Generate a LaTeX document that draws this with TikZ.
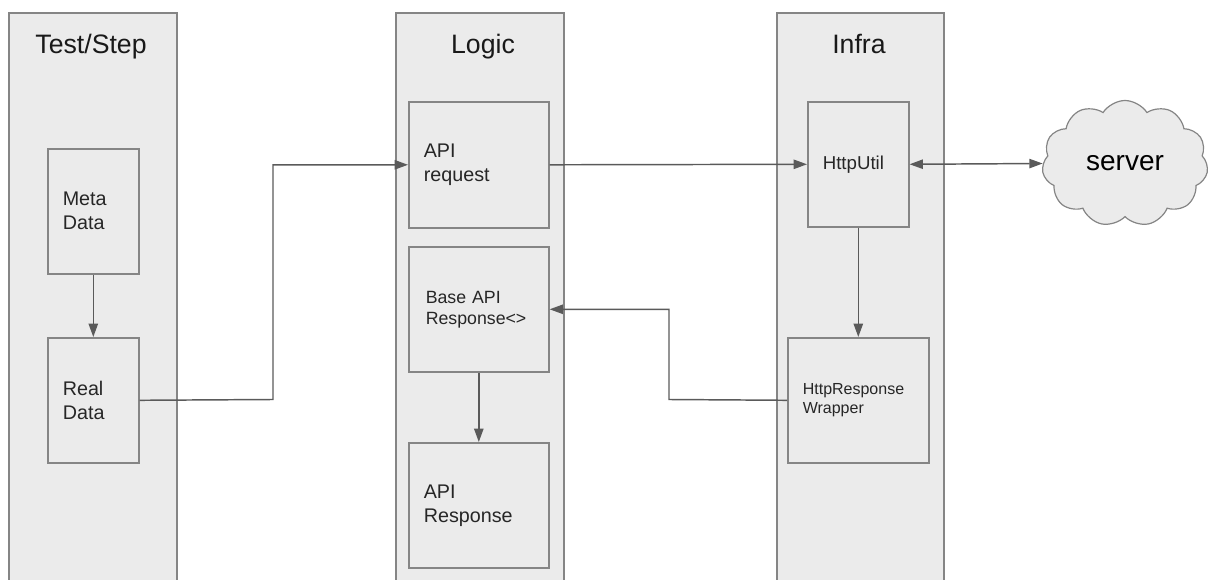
\documentclass[tikz,border=0pt]{standalone}
\usepackage{fontspec}
\setmainfont{Liberation Sans}
\usetikzlibrary{arrows.meta,shapes.symbols}
\definecolor{lanefill}{HTML}{EBEBEB}
\definecolor{edgegray}{HTML}{858585}
\definecolor{linkgray}{HTML}{5A5A5A}

\begin{document}
\begin{tikzpicture}[x=0.75pt,y=-0.75pt,
  lane/.style={draw=edgegray, line width=1.2pt, fill=lanefill, anchor=north west,
    inner sep=0pt, minimum height=578*0.75pt},
  lanetitle/.style={anchor=base, font=\fontsize{20}{24}\selectfont, text=black!90},
  block/.style={draw=edgegray, line width=1.2pt, fill=lanefill, anchor=north west,
    inner xsep=11.25pt, inner ysep=0pt, align=left, text=black!85,
    minimum height=125*0.75pt},
  bodytext/.style={font=\fontsize{14.8}{18}\selectfont},
  link/.style={draw=linkgray, line width=1.1pt, -{Triangle[length=10pt,width=7pt]}},
  duplex/.style={draw=linkgray, line width=1.1pt,
    {Triangle[length=10pt,width=7pt]}-{Triangle[length=10pt,width=7pt]}},
]
\useasboundingbox (0,0) rectangle (1214,580);
\clip (0,0) rectangle (1214,580);

% swim lanes
\node[lane, minimum width=168*0.75pt] (laneTest)  at (8,12)   {};
\node[lane, minimum width=168*0.75pt] (laneLogic) at (395,12) {};
\node[lane, minimum width=167*0.75pt] (laneInfra) at (776,12) {};

\node[lanetitle] (tTest)  at (91,54)  {Test/Step};
\node[lanetitle] (tLogic) at (483,54) {Logic};
\node[lanetitle] (tInfra) at (859,54) {Infra};

% Test/Step lane
\node[block, bodytext, text width=61*0.75pt] (meta) at (47,148) {Meta\\Data};
\node[block, bodytext, text width=61*0.75pt] (real) at (47,337) {Real\\Data};

% Logic lane
\node[block, bodytext, text width=110*0.75pt, minimum height=126*0.75pt] (req) at (408,101) {API\\request};
\node[block, text width=106*0.75pt, inner xsep=12.75pt,
      font=\fontsize{13.3}{15.75}\selectfont] (base) at (408,246) {Base API\\Response<>};
\node[block, bodytext, text width=110*0.75pt] (resp) at (408,442) {API\\Response};

% Infra lane
\node[block, text width=71*0.75pt, font=\fontsize{14}{17}\selectfont] (util) at (807,101) {HttpUtil};
\node[block, text width=111*0.75pt, font=\fontsize{12}{14.25}\selectfont] (wrap) at (787,337) {HttpResponse\\Wrapper};

% remote server
\node[cloud, cloud puffs=11, cloud puff arc=115, cloud ignores aspect,
      draw=edgegray, line width=0.9pt, fill=lanefill, text=black,
      minimum width=166*0.75pt, minimum height=126*0.75pt,
      font=\fontsize{21}{25}\selectfont] (server) at (1125,163.5) {server};

% connectors
\coordinate (bendOut) at (273,399.5);
\coordinate (bendBack) at (669,399.5);
\draw[link] (meta.south) -- (real.north);
\draw[link] (real.east) -- (bendOut) |- (req.west);
\draw[link] (req.east) -- (util.west);
\draw[duplex] (util.east) -- (server.west);
\draw[link] (util.south) -- (wrap.north);
\draw[link] (wrap.west) -- (bendBack) |- (base.east);
\draw[link] (base.south) -- (resp.north);
\end{tikzpicture}
\end{document}
